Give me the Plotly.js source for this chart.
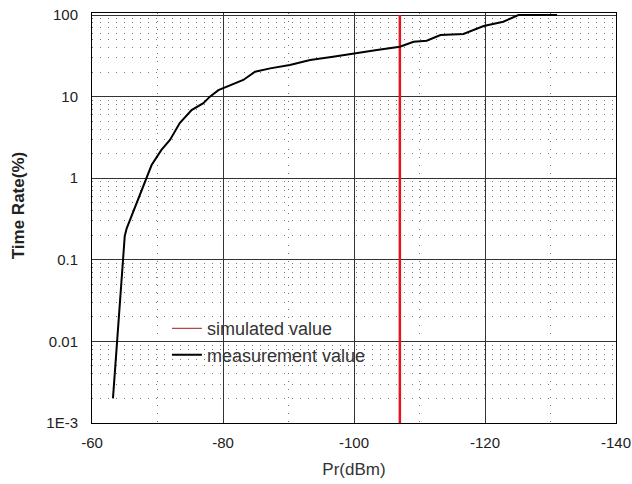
<!DOCTYPE html>
<html>
<head>
<meta charset="utf-8">
<script src="https://cdn.plot.ly/plotly-3.0.1.min.js"></script>
<style>html,body{margin:0;padding:0;background:#fff}#chart{width:632px;height:484px}</style>
</head>
<body>
<div id="chart"></div>
<script>
// Measured time-rate curve (Pr in dBm, time rate in %)
var measPr = [-63.2, -64.3, -64.8, -65.0, -65.3, -66.3, -67.3, -68.4, -69.1, -70.6, -71.9, -73.4, -75.2, -77.0, -78.0, -79.3, -83.1, -84.9, -87.2, -90.2, -93.3, -96.8, -99.9, -103.5, -107.0, -109.1, -111.1, -113.2, -116.7, -119.8, -122.8, -125.1, -131.0];
var measRate = [0.002, 0.032, 0.095, 0.196, 0.243, 0.389, 0.59, 1.04, 1.45, 2.22, 2.94, 4.75, 6.85, 8.3, 10.0, 12.0, 16.0, 20.2, 22.2, 24.4, 28.1, 30.8, 33.9, 37.2, 40.9, 47.1, 48.4, 56.9, 58.5, 73.3, 82.8, 100, 100];
// Simulated value (vertical line)
var simPr = [-107, -107];
var simRate = [0.001, 100];
// Axis ticks
var xTicks = [-60, -80, -100, -120, -140];
var yTickVals = [0.001, 0.01, 0.1, 1, 10, 100];
var yTickText = ['1E-3', '0.01', '0.1', '1', '10', '100'];

var font = '"Liberation Sans", Arial, sans-serif';
var traces = [
  {x: simPr, y: simRate, mode: 'lines', line: {color: '#e8141c', width: 2.5}, showlegend: false, hoverinfo: 'skip'},
  {x: [null], y: [null], mode: 'lines', name: 'simulated value', legendgroup: 'a', line: {color: '#b84848', width: 1.2}},
  {x: measPr, y: measRate, mode: 'lines', name: 'measurement value', legendgroup: 'b', line: {color: '#000', width: 2}}
];
var layout = {
  width: 632, height: 484,
  margin: {l: 92, r: 16, t: 13, b: 61},
  paper_bgcolor: '#fff', plot_bgcolor: '#fff',
  font: {family: font, size: 15, color: '#222'},
  showlegend: true,
  legend: {x: 0.143, y: 0.275, xanchor: 'left', yanchor: 'top', bgcolor: 'rgba(0,0,0,0)',
           font: {family: font, size: 18, color: '#333'}, tracegroupgap: 0, itemwidth: 30},
  xaxis: {
    range: [-60, -140], tickvals: xTicks, ticktext: xTicks.map(String),
    showline: true, linecolor: '#000', linewidth: 1, mirror: true,
    showgrid: true, gridcolor: '#333', gridwidth: 1,
    zeroline: false, ticks: '', ticklen: 0, ticklabelstandoff: 6,
    minor: {dtick: 10, showgrid: true, gridcolor: '#777', griddash: '1px,7px', gridwidth: 1, ticks: ''},
    tickfont: {size: 15, color: '#222'},
    title: {text: 'Pr(dBm)', font: {size: 17, color: '#333'}, standoff: 13}
  },
  yaxis: {
    type: 'log', range: [-3, 2.025],
    tickvals: yTickVals, ticktext: yTickText,
    showline: true, linecolor: '#000', linewidth: 1, mirror: true,
    showgrid: true, gridcolor: '#333', gridwidth: 1,
    zeroline: false, ticks: '', ticklen: 0, ticklabelstandoff: 10,
    minor: {dtick: 'D1', showgrid: true, gridcolor: '#777', griddash: '1px,7px', gridwidth: 1, ticks: ''},
    tickfont: {size: 15, color: '#222'}
  },
  annotations: [{
    text: '<b>Time Rate(%)</b>', xref: 'paper', yref: 'paper', x: -0.141, y: 0.529,
    xanchor: 'center', yanchor: 'middle', textangle: -90, showarrow: false,
    font: {family: font, size: 17, color: '#222'}
  }]
};
Plotly.newPlot('chart', traces, layout, {displayModeBar: false, staticPlot: true});
</script>
</body>
</html>
